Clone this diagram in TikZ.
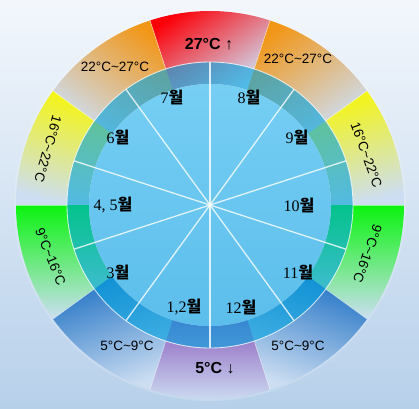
\documentclass[tikz,border=0pt]{standalone}
\usepackage{fontspec}
\setmainfont{Liberation Sans}
\newfontfamily\krfont{Noto Sans CJK KR}
\newfontfamily\numfont{Liberation Serif}
\definecolor{bgtop}{RGB}{243,247,252}
\definecolor{bgbot}{RGB}{183,208,234}
\definecolor{pale}{RGB}{205,222,242}
\definecolor{cred}{RGB}{252,0,8}
\definecolor{corange}{RGB}{242,150,22}
\definecolor{cyellow}{RGB}{246,246,12}
\definecolor{cgreen}{RGB}{10,244,14}
\definecolor{cblue}{RGB}{38,118,198}
\definecolor{cpurple}{RGB}{140,96,190}
\definecolor{ringblue}{RGB}{0,162,223}
\definecolor{disktop}{RGB}{118,206,243}
\definecolor{diskbot}{RGB}{92,190,236}
\newcommand\monthlabel[1]{{\numfont #1}{\krfont\bfseries 월}}
\newcommand\tempsector[4]{%
  \shade[top color=#3, bottom color=pale, shading angle=#4]
    (#1:121pt) arc[start angle=#1, end angle=#2, radius=121pt]
    -- (#2:194pt) arc[start angle=#2, end angle=#1, radius=194pt] -- cycle;}
\tikzset{
  month/.style={font=\fontsize{16}{18}\selectfont, inner sep=0pt},
  temp/.style={font=\fontsize{13.5}{15}\selectfont, inner sep=0pt},
  tempbig/.style={font=\bfseries\fontsize{16}{18}\selectfont, inner sep=0pt},
  spoke/.style={draw=white, line width=1.3pt, opacity=0.8},
  edge/.style={draw=white, line width=0.6pt, opacity=0.55}
}
\begin{document}
\begin{tikzpicture}
\useasboundingbox (-210pt,-203pt) rectangle (209pt,205pt);
\shade[top color=bgtop, bottom color=bgbot] (-210pt,-203pt) rectangle (209pt,205pt);
\coordinate (c) at (0pt,0pt);
% faint outer disk
\fill[white, opacity=0.18] (c) circle[radius=196pt];
% temperature sectors
\tempsector{72}{108}{cred}{35}
\tempsector{36}{72}{corange}{35}
\tempsector{108}{144}{corange}{-35}
\tempsector{144}{180}{cyellow}{-15}
\tempsector{0}{36}{cyellow}{15}
\tempsector{180}{216}{cgreen}{0}
\tempsector{-36}{0}{cgreen}{0}
\tempsector{216}{252}{cblue}{20}
\tempsector{-72}{-36}{cblue}{-20}
\tempsector{252}{288}{cpurple}{0}
% sector edges
\foreach \a in {0,36,...,324}{
  \draw[edge] (\a:143pt) -- (\a:194pt);
}
% ring overlay
\fill[ringblue, opacity=0.6, even odd rule] (c) circle[radius=143pt] (c) circle[radius=121pt];
% inner disk
\shade[top color=disktop, bottom color=diskbot] (c) circle[radius=121pt];
\draw[white, line width=0.9pt, opacity=0.75] (c) circle[radius=143pt];
% spokes
\foreach \a in {18,54,...,342}{
  \draw[spoke] (c) -- (\a:143pt);
}
% month labels
\node[month] (m7) at (-38pt,108pt) {\monthlabel{7}};
\node[month] (m8) at (39pt,108pt) {\monthlabel{8}};
\node[month] (m9) at (87pt,68pt) {\monthlabel{9}};
\node[month] (m10) at (89pt,0pt) {\monthlabel{10}};
\node[month] (m11) at (88pt,-67pt) {\monthlabel{11}};
\node[month] (m12) at (31pt,-102pt) {\monthlabel{12}};
\node[month] (m1) at (-26pt,-102pt) {\monthlabel{1,2}};
\node[month] (m3) at (-92pt,-67pt) {\monthlabel{3}};
\node[month] (m4) at (-97pt,0pt) {\monthlabel{4, 5}};
\node[month] (m6) at (-92pt,68pt) {\monthlabel{6}};
% temperature labels
\node[tempbig] (t27) at (-1pt,161pt) {27°C ↑};
\node[tempbig] (t5) at (5pt,-163pt) {5°C ↓};
\node[temp] (t2227l) at (-95pt,138.5pt) {22°C\char`~27°C};
\node[temp] (t2227r) at (88pt,146pt) {22°C\char`~27°C};
\node[temp] (t59l) at (-83pt,-141pt) {5°C\char`~9°C};
\node[temp] (t59r) at (88pt,-141pt) {5°C\char`~9°C};
\node[temp, rotate=-106] (t1622l) at (-162pt,56pt) {16°C\char`~22°C};
\node[temp, rotate=-70] (t1622r) at (156.5pt,50pt) {16°C\char`~22°C};
\node[temp, rotate=-68] (t916l) at (-159.5pt,-51.5pt) {9°C\char`~16°C};
\node[temp, rotate=-110] (t916r) at (157.5pt,-49pt) {9°C\char`~16°C};
\end{tikzpicture}
\end{document}
